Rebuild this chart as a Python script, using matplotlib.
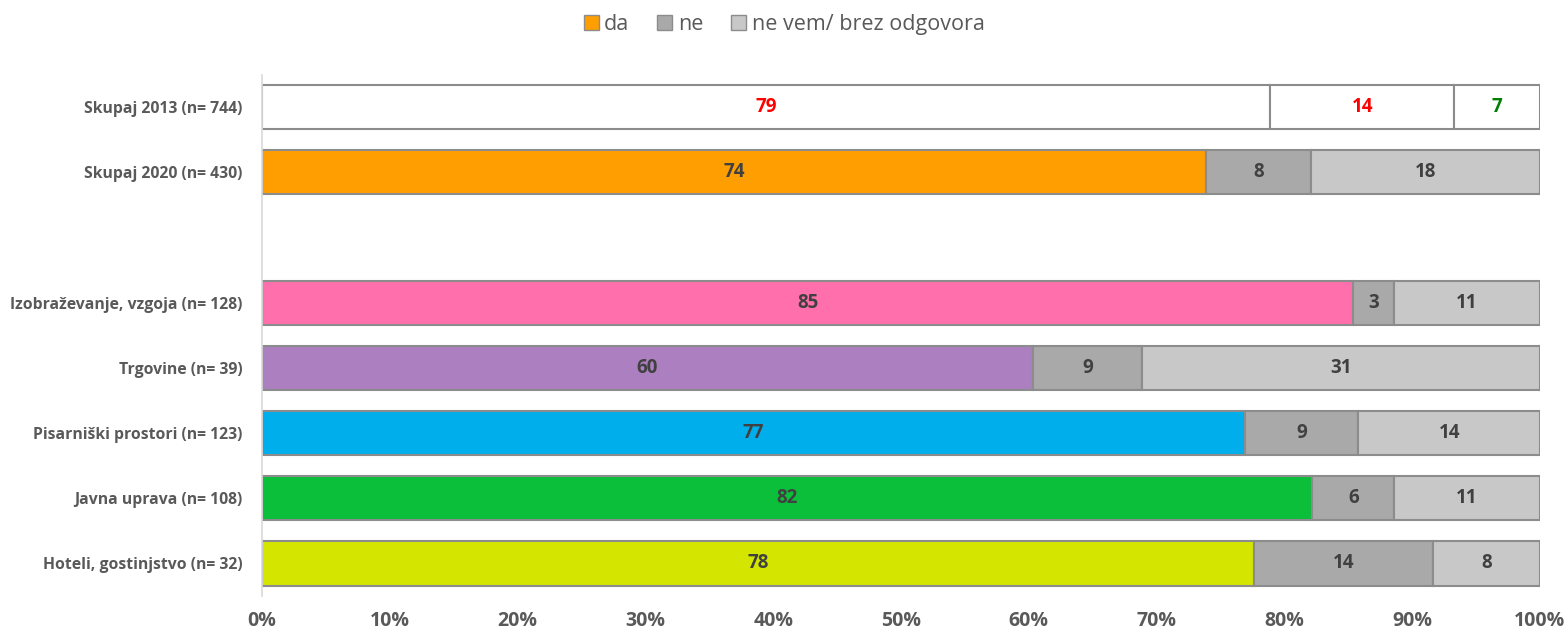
import numpy as np
import matplotlib.pyplot as plt

plt.rcParams['font.family'] = ['Open Sans', 'DejaVu Sans']

categories = ['Skupaj 2013 (n= 744)', 'Skupaj 2020 (n= 430)', '',
              'Izobraževanje, vzgoja (n= 128)', 'Trgovine (n= 39)',
              'Pisarniški prostori (n= 123)', 'Javna uprava (n= 108)',
              'Hoteli, gostinjstvo (n= 32)']
da = [78.9, 73.9, 0, 85.4, 60.3, 76.9, 82.2, 77.6]
ne = [14.4, 8.2, 0, 3.2, 8.6, 8.9, 6.4, 14.0]
ne_vem = [6.7, 17.9, 0, 11.4, 31.1, 14.2, 11.4, 8.4]
series_names = ['da', 'ne', 'ne vem/ brez odgovora']

da_colors = ['white', '#FF9E00', 'white', '#FF6FAB', '#AB7FC0',
             '#00AEEB', '#0BBF3B', '#D4E600']
ne_color = '#A9A9A9'
nevem_color = '#C8C8C8'
edge = '#8C8C8C'
lab_color = '#404040'

fig = plt.figure(figsize=(15.68, 6.32), dpi=100)
ax = fig.add_axes([0.1671, 0.057, 0.815, 0.825])

y = np.arange(len(categories))
for i in range(len(categories)):
    if categories[i] == '':
        continue
    c_ne = 'white' if i == 0 else ne_color
    c_nv = 'white' if i == 0 else nevem_color
    ax.barh(y[i], da[i], height=0.68, color=da_colors[i], edgecolor=edge, linewidth=1.5)
    ax.barh(y[i], ne[i], left=da[i], height=0.68, color=c_ne, edgecolor=edge, linewidth=1.5)
    ax.barh(y[i], ne_vem[i], left=da[i] + ne[i], height=0.68, color=c_nv, edgecolor=edge, linewidth=1.5)
    cols = ['red', 'red', 'green'] if i == 0 else [lab_color] * 3
    ax.text(da[i] / 2, y[i], '%.0f' % da[i], ha='center', va='center',
            fontsize=13.5, fontweight='bold', color=cols[0])
    ax.text(da[i] + ne[i] / 2, y[i], '%.0f' % ne[i], ha='center', va='center',
            fontsize=13.5, fontweight='bold', color=cols[1])
    ax.text(da[i] + ne[i] + ne_vem[i] / 2, y[i], '%.0f' % ne_vem[i], ha='center', va='center',
            fontsize=13.5, fontweight='bold', color=cols[2])

ax.set_xlim(0, 100)
ax.set_ylim(len(categories) - 0.5, -0.5)
ax.set_yticks(y)
ax.set_yticklabels(categories, fontsize=11.3, fontweight='bold', color='#595959')
ax.set_xticks(np.arange(0, 101, 10))
ax.set_xticklabels(['%d%%' % v for v in range(0, 101, 10)], fontsize=14,
                   fontweight='bold', color='#595959')
ax.tick_params(axis='both', length=0)
ax.tick_params(axis='y', pad=14)
ax.tick_params(axis='x', pad=11)
for s in ['top', 'right', 'bottom']:
    ax.spines[s].set_visible(False)
ax.spines['left'].set_color('#D9D9D9')
ax.spines['left'].set_linewidth(1.2)

handles = [plt.Rectangle((0, 0), 1, 1, facecolor=c, edgecolor=edge, linewidth=1)
           for c in ['#FF9E00', ne_color, nevem_color]]
fig.legend(handles, series_names, loc='upper center', bbox_to_anchor=(0.5, 1.008),
           ncol=3, frameon=False, fontsize=15.5, handlelength=0.7, handleheight=0.7,
           handletextpad=0.25, columnspacing=1.3, labelcolor='#595959')

fig.savefig('out.png', dpi=100)
